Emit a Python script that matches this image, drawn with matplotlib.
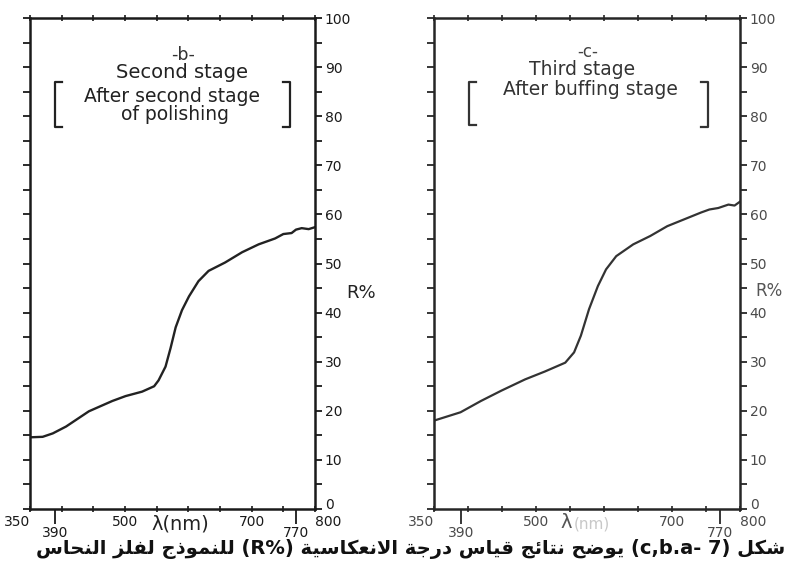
import matplotlib
matplotlib.use("Agg")
import matplotlib.pyplot as plt
from matplotlib.lines import Line2D
from matplotlib.ticker import MultipleLocator

W, H = 788, 568

# panel b: after second stage of polishing
wl_b = [350, 370, 386, 407, 443, 480, 501, 527, 546, 553, 564, 572, 580, 590,
        601, 616, 632, 658, 685, 711, 737, 750, 763, 770, 779, 790, 800]
r_b = [14.6, 14.7, 15.4, 16.8, 19.9, 22.0, 23.0, 23.9, 25.0, 26.2, 29.0, 32.8,
       37.0, 40.5, 43.3, 46.4, 48.5, 50.2, 52.3, 53.9, 55.1, 56.0, 56.2, 56.9,
       57.2, 57.0, 57.4]

# panel c: after buffing stage
wl_c = [350, 389, 419, 449, 484, 513, 543, 556, 566, 578, 591, 603, 618, 643,
        668, 693, 718, 743, 755, 768, 783, 792, 800]
r_c = [18.0, 19.7, 22.0, 24.1, 26.4, 28.0, 29.8, 31.9, 35.3, 40.7, 45.4, 48.8,
       51.5, 53.9, 55.6, 57.6, 59.0, 60.4, 61.0, 61.3, 62.0, 61.8, 62.6]

x_labeled = [350, 500, 700, 800]
x_special = [390, 770]
y_ticks = list(range(0, 101, 10))

caption_parts = [("ar", "شكل"), ("lt", "(c,b.a- 7)"),
                 ("ar", "يوضح نتائج قياس درجة الانعكاسية"), ("lt", "(R%)"),
                 ("ar", "للنموذج لفلز النحاس")]

# Arabic presentation forms: isolated, final, initial, medial
AR_FORMS = {
    "ا": (0xFE8D, 0xFE8E), "ئ": (0xFE89, 0xFE8A, 0xFE8B, 0xFE8C),
    "ت": (0xFE95, 0xFE96, 0xFE97, 0xFE98), "ج": (0xFE9D, 0xFE9E, 0xFE9F, 0xFEA0),
    "ح": (0xFEA1, 0xFEA2, 0xFEA3, 0xFEA4), "د": (0xFEA9, 0xFEAA),
    "ذ": (0xFEAB, 0xFEAC), "ر": (0xFEAD, 0xFEAE), "ز": (0xFEAF, 0xFEB0),
    "س": (0xFEB1, 0xFEB2, 0xFEB3, 0xFEB4), "ش": (0xFEB5, 0xFEB6, 0xFEB7, 0xFEB8),
    "ض": (0xFEBD, 0xFEBE, 0xFEBF, 0xFEC0), "ع": (0xFEC9, 0xFECA, 0xFECB, 0xFECC),
    "ف": (0xFED1, 0xFED2, 0xFED3, 0xFED4), "ق": (0xFED5, 0xFED6, 0xFED7, 0xFED8),
    "ك": (0xFED9, 0xFEDA, 0xFEDB, 0xFEDC), "ل": (0xFEDD, 0xFEDE, 0xFEDF, 0xFEE0),
    "م": (0xFEE1, 0xFEE2, 0xFEE3, 0xFEE4), "ن": (0xFEE5, 0xFEE6, 0xFEE7, 0xFEE8),
    "و": (0xFEED, 0xFEEE), "ي": (0xFEF1, 0xFEF2, 0xFEF3, 0xFEF4),
    "ة": (0xFE93, 0xFE94), "لا": (0xFEFB, 0xFEFC),
}


def shape_word(word):
    # matplotlib has no Arabic shaping, so pick the joined forms by hand
    chars, i = [], 0
    while i < len(word):
        if word[i] == "ل" and word[i + 1:i + 2] == "ا":
            chars.append("لا")
            i += 2
        else:
            chars.append(word[i])
            i += 1
    out = []
    for k, ch in enumerate(chars):
        forms = AR_FORMS[ch]
        jp = k > 0 and len(AR_FORMS[chars[k - 1]]) == 4
        jn = k + 1 < len(chars) and len(forms) == 4
        cp = forms[3] if jp and jn else forms[1] if jp else forms[2] if jn else forms[0]
        out.append(chr(cp))
    return "".join(reversed(out))


def visual_line(parts):
    segs = []
    for kind, txt in reversed(parts):
        if kind == "ar":
            segs.append(" ".join(shape_word(w) for w in reversed(txt.split())))
        else:
            segs.append(txt)
    return " ".join(segs)


def fx(px):
    return px / W


def fy(py):
    return 1 - py / H


def bracket(fig, x, y0, y1, dx, color):
    fig.add_artist(Line2D([fx(x + dx), fx(x), fx(x), fx(x + dx)],
                          [fy(y0), fy(y0), fy(y1), fy(y1)],
                          color=color, lw=1.6, transform=fig.transFigure))


def setup(ax, color, lab_color):
    ax.set_xlim(350, 800)
    ax.set_ylim(0, 100)
    for s in ax.spines.values():
        s.set_color(color)
        s.set_linewidth(1.8)
    ax.yaxis.tick_right()
    ax.set_yticks(y_ticks)
    ax.yaxis.set_minor_locator(MultipleLocator(5))
    ax.tick_params(axis="y", which="both", left=True, right=True,
                   direction="out", length=5, width=1.3, color=color,
                   labelleft=False, labelright=True, labelsize=10,
                   labelcolor=lab_color, pad=2)
    ax.get_yticklabels()[0].set_va("baseline")
    ax.set_xticks(x_labeled)
    ax.xaxis.set_minor_locator(MultipleLocator(50))
    ax.tick_params(axis="x", which="both", top=True, bottom=True,
                   direction="inout", length=5, width=1.2, color=color,
                   labelsize=10, labelcolor=lab_color, pad=2)
    labs = ax.get_xticklabels()
    labs[0].set_ha("right")
    labs[-1].set_ha("left")
    sec = ax.secondary_xaxis("bottom")
    sec.set_xticks(x_special)
    sec.tick_params(direction="out", length=11, width=1.3, color=color,
                    labelsize=10, labelcolor=lab_color, pad=1)
    sec.spines["bottom"].set_visible(False)


fig = plt.figure(figsize=(W / 100, H / 100), dpi=100)
fig.patch.set_facecolor("white")

ax_b = fig.add_axes([fx(30), 59 / H, 285 / W, 491 / H])
ax_c = fig.add_axes([fx(434), 59 / H, 306 / W, 491 / H])

setup(ax_b, "#1a1a1a", "#1a1a1a")
setup(ax_c, "#262626", "#4a4a4a")

ax_b.plot(wl_b, r_b, color="#222222", lw=1.7)
ax_c.plot(wl_c, r_c, color="#333333", lw=1.6)

# panel b titles
fig.text(fx(183), fy(55), "-b-", ha="center", va="center", fontsize=12.5, color="#333")
fig.text(fx(182), fy(72), "Second stage", ha="center", va="center", fontsize=14, color="#222")
fig.text(fx(172), fy(96), "After second stage", ha="center", va="center", fontsize=13.5, color="#222")
fig.text(fx(175), fy(114), "of polishing", ha="center", va="center", fontsize=13.5, color="#222")
bracket(fig, 55, 82, 127, 7, "#222")
bracket(fig, 290, 82, 127, -7, "#222")

# panel c titles
fig.text(fx(588), fy(52), "-c-", ha="center", va="center", fontsize=12, color="#444")
fig.text(fx(582), fy(70), "Third stage", ha="center", va="center", fontsize=13.5, color="#333")
fig.text(fx(590), fy(89), "After buffing stage", ha="center", va="center", fontsize=13.5, color="#333")
bracket(fig, 469, 82, 125, 7, "#333")
bracket(fig, 708, 82, 127, -7, "#333")

# axis names
fig.text(fx(361), fy(293), "R%", ha="center", va="center", fontsize=13, color="#222")
fig.text(fx(755), fy(291), "R%", ha="left", va="center", fontsize=12, color="#555")
fig.text(fx(180), fy(524), "λ(nm)", ha="center", va="center", fontsize=14, color="#222")
fig.text(fx(566), fy(522), "λ", ha="center", va="center", fontsize=14, color="#555")
fig.text(fx(592), fy(524), "(nm)", ha="center", va="center", fontsize=11, color="#c8c8c8")

# arabic caption
fig.text(fx(785), fy(549), visual_line(caption_parts), ha="right", va="center",
         fontsize=14, fontweight="bold", color="#111", family="DejaVu Sans")

fig.savefig("out.png", dpi=100, facecolor="white")
